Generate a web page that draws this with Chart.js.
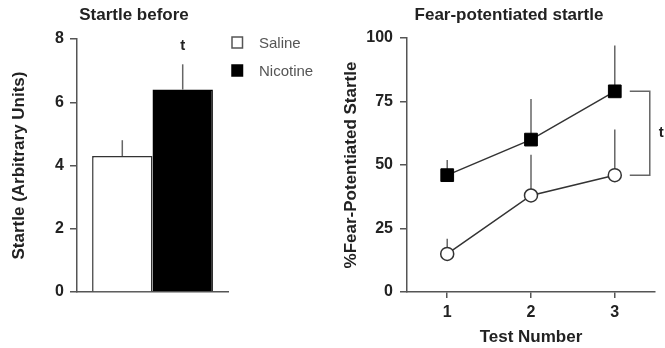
<!DOCTYPE html>
<html>
<head>
<meta charset="utf-8">
<script src="https://cdn.jsdelivr.net/npm/chart.js@4"></script>
<style>
body { margin: 0; background: #fff; }
#before { position: absolute; left: 0; top: 0; }
#fear { position: absolute; left: 330px; top: 0; }
</style>
</head>
<body>
<canvas id="before" width="330" height="348"></canvas>
<canvas id="fear" width="335" height="348"></canvas>
<script>
// startle before test, arbitrary units
var groups = ["Saline", "Nicotine"];
var beforeMeans = [4.3, 6.4];
var beforeErrs = [0.5, 0.8];
var beforeTicks = [0, 2, 4, 6, 8];

// fear-potentiated startle per test
var testNumbers = [1, 2, 3];
var salineFps = [15, 38, 46];
var salineErrs = [6, 16, 18];
var nicotineFps = [46, 60, 79];
var nicotineErrs = [6, 16, 18];
var fpsTicks = [0, 25, 50, 75, 100];

Chart.defaults.font.family = "'Liberation Sans', Arial, sans-serif";
Chart.defaults.color = "#222";

var axisGrey = "#555";
var tickFont = { size: 16, weight: "bold" };
var titleFont = { size: 17, weight: "bold" };

function fixedTicks(values) {
	return function(scale) {
		scale.ticks = values.map(function(v) { return { value: v }; });
	};
}

// vertical error lines, upper side only
function errorBars(hook) {
	var p = { id: "errorBars" };
	p[hook] = function(chart) {
		var ctx = chart.ctx, y = chart.scales.y;
		ctx.save();
		ctx.strokeStyle = "#666";
		ctx.lineWidth = 1.5;
		chart.data.datasets.forEach(function(ds, i) {
			chart.getDatasetMeta(i).data.forEach(function(el, j) {
				var v = ds.data[j];
				if (typeof v === "object") v = v.y;
				ctx.beginPath();
				ctx.moveTo(el.x, y.getPixelForValue(v));
				ctx.lineTo(el.x, y.getPixelForValue(v + ds.errs[j]));
				ctx.stroke();
			});
		});
		ctx.restore();
	};
	return p;
}

var beforeNotes = {
	id: "beforeNotes",
	afterDraw: function(chart) {
		var ctx = chart.ctx;
		ctx.save();
		ctx.fillStyle = "#222";
		ctx.textAlign = "center";
		ctx.textBaseline = "middle";
		ctx.font = "bold 17px 'Liberation Sans', Arial, sans-serif";
		ctx.fillText("Startle before", 134, 15);

		var bar = chart.getDatasetMeta(1).data[0];
		ctx.font = "bold 15px 'Liberation Sans', Arial, sans-serif";
		ctx.fillText("t", bar.x, 46);

		// legend
		ctx.textAlign = "left";
		ctx.font = "15px 'Liberation Sans', Arial, sans-serif";
		var rows = [42.5, 70.5];
		chart.data.datasets.forEach(function(ds, i) {
			ctx.fillStyle = ds.backgroundColor;
			ctx.fillRect(232, rows[i] - 5.5, 10.5, 11);
			ctx.strokeStyle = i == 0 ? axisGrey : "#000";
			ctx.lineWidth = 1.5;
			ctx.strokeRect(232, rows[i] - 5.5, 10.5, 11);
			ctx.fillStyle = "#555";
			ctx.fillText(ds.label, 259, rows[i] + 1);
		});
		ctx.restore();
	}
};

var fearNotes = {
	id: "fearNotes",
	afterDraw: function(chart) {
		var ctx = chart.ctx, x = chart.scales.x, y = chart.scales.y;
		ctx.save();
		ctx.fillStyle = "#222";
		ctx.textAlign = "center";
		ctx.textBaseline = "middle";
		ctx.font = "bold 17px 'Liberation Sans', Arial, sans-serif";
		ctx.fillText("Fear-potentiated startle", 179, 15);

		// bracket between the two groups at the last test
		var last = testNumbers.length - 1;
		var px = x.getPixelForValue(testNumbers[last]);
		var yTop = y.getPixelForValue(nicotineFps[last]);
		var yBot = y.getPixelForValue(salineFps[last]);
		ctx.strokeStyle = "#666";
		ctx.lineWidth = 1.5;
		ctx.beginPath();
		ctx.moveTo(px + 15, yTop);
		ctx.lineTo(px + 35, yTop);
		ctx.lineTo(px + 35, yBot);
		ctx.lineTo(px + 15, yBot);
		ctx.stroke();
		ctx.textAlign = "left";
		ctx.font = "bold 15px 'Liberation Sans', Arial, sans-serif";
		ctx.fillText("t", px + 44, (yTop + yBot) / 2);
		ctx.restore();
	}
};

new Chart(document.getElementById("before"), {
	type: "bar",
	data: {
		labels: [""],
		datasets: [
			{ label: groups[0], data: [beforeMeans[0]], errs: [beforeErrs[0]], backgroundColor: "#fff", borderColor: "#333", borderWidth: 1.5 },
			{ label: groups[1], data: [beforeMeans[1]], errs: [beforeErrs[1]], backgroundColor: "#000", borderColor: "#000", borderWidth: 1.5 }
		]
	},
	options: {
		responsive: false,
		animation: false,
		layout: { padding: { top: 39, right: 102, bottom: 56, left: 0 } },
		datasets: { bar: { categoryPercentage: 0.8, barPercentage: 1 } },
		plugins: { legend: { display: false }, tooltip: { enabled: false } },
		scales: {
			x: {
				grid: { display: false },
				ticks: { display: false },
				border: { color: axisGrey, width: 1.5 },
				afterFit: function(s) { s.height = 0; }
			},
			y: {
				min: 0,
				max: 8,
				afterBuildTicks: fixedTicks(beforeTicks),
				afterFit: function(s) { s.width = 77; },
				grid: { drawOnChartArea: false, tickLength: 7, color: axisGrey, lineWidth: 1.5 },
				border: { color: axisGrey, width: 1.5 },
				ticks: { padding: 6, font: tickFont },
				title: { display: true, text: "Startle (Arbitrary Units)", font: titleFont, padding: { top: 8.8, bottom: 0 } }
			}
		}
	},
	plugins: [errorBars("afterDatasetsDraw"), beforeNotes]
});

function points(ys) {
	return testNumbers.map(function(t, i) { return { x: t, y: ys[i] }; });
}

new Chart(document.getElementById("fear"), {
	type: "line",
	data: {
		datasets: [
			{
				label: groups[0], data: points(salineFps), errs: salineErrs,
				borderColor: "#333", borderWidth: 1.5,
				pointStyle: "circle", pointRadius: 6.5,
				pointBackgroundColor: "#fff", pointBorderColor: "#333", pointBorderWidth: 1.5
			},
			{
				label: groups[1], data: points(nicotineFps), errs: nicotineErrs,
				borderColor: "#333", borderWidth: 1.5,
				pointStyle: "rect", pointRadius: 9,
				pointBackgroundColor: "#000", pointBorderColor: "#000", pointBorderWidth: 1
			}
		]
	},
	options: {
		responsive: false,
		animation: false,
		layout: { padding: { top: 38, right: 8, bottom: 0, left: 0 } },
		plugins: { legend: { display: false }, tooltip: { enabled: false } },
		scales: {
			x: {
				type: "linear",
				min: 0.52,
				max: 3.48,
				afterBuildTicks: fixedTicks(testNumbers),
				afterFit: function(s) { s.height = 56; },
				grid: { drawOnChartArea: false, tickLength: 6, color: axisGrey, lineWidth: 1.5 },
				border: { color: axisGrey, width: 1.5 },
				ticks: { padding: 5, font: tickFont },
				title: { display: true, text: "Test Number", font: titleFont, padding: { top: 0, bottom: 0 } }
			},
			y: {
				min: 0,
				max: 100,
				afterBuildTicks: fixedTicks(fpsTicks),
				afterFit: function(s) { s.width = 77; },
				grid: { drawOnChartArea: false, tickLength: 7, color: axisGrey, lineWidth: 1.5 },
				border: { color: axisGrey, width: 1.5 },
				ticks: { padding: 7, font: tickFont },
				title: { display: true, text: "%Fear-Potentiated Startle", font: titleFont, padding: { top: 10.8, bottom: 0 } }
			}
		}
	},
	plugins: [errorBars("beforeDatasetsDraw"), fearNotes]
});
</script>
</body>
</html>
